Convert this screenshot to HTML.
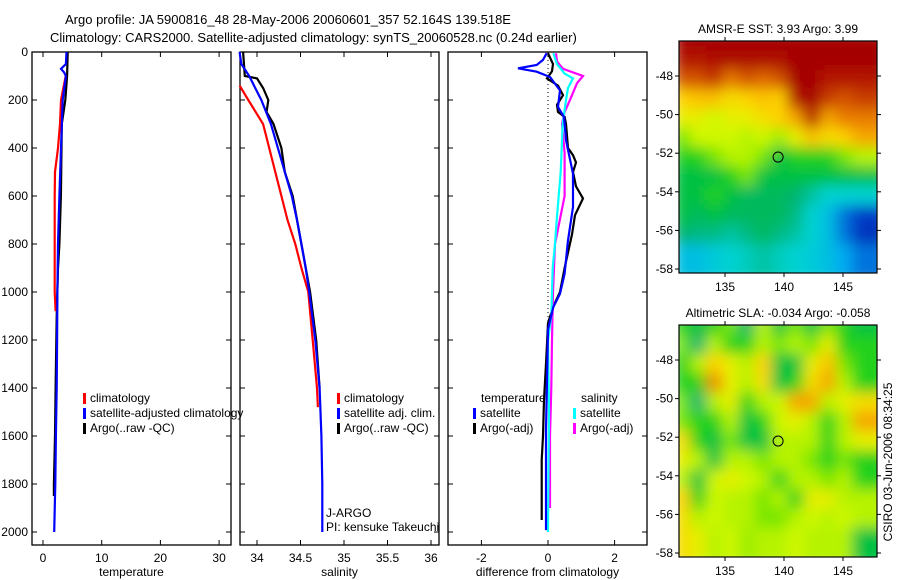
<!DOCTYPE html>
<html><head><meta charset="utf-8"><style>
body{margin:0;background:#fff;}
svg{display:block;font-family:"Liberation Sans",sans-serif;}
</style></head><body>
<svg id="fig" width="900" height="580" viewBox="0 0 900 580">
<defs>
<filter id="blur" x="-10%" y="-10%" width="120%" height="120%"><feGaussianBlur stdDeviation="7"/></filter>
<clipPath id="clipA"><rect x="679" y="41" width="198" height="232"/></clipPath>
<clipPath id="clipB"><rect x="679" y="325" width="198" height="232"/></clipPath>
</defs>
<text x="65" y="24" font-size="13">Argo profile: JA 5900816_48 28-May-2006 20060601_357 52.164S 139.518E</text>
<text x="50" y="42" font-size="13">Climatology: CARS2000. Satellite-adjusted climatology: synTS_20060528.nc (0.24d earlier)</text>
<g id="plots"></g>
</svg>
<script>
// ---------- data ----------
const tempClimDepth=[100,200,300,400,500,600,800,1000,1080];
const tempClimVal=[3.87,3.07,2.9,2.55,2.05,2.0,2.0,2.0,2.15];
const tempSatDepth=[0,50,70,85,100,200,400,600,800,1000,1200,1400,1600,1800,2000];
const tempSatVal=[4.0,3.9,3.06,3.6,3.9,3.35,3.07,2.8,2.55,2.45,2.4,2.33,2.2,2.1,1.9];
const tempArgoDepth=[0,100,200,300,400,600,800,900,1100,1400,1600,1800,1850];
const tempArgoVal=[4.2,4.1,3.8,3.2,3.15,3.05,2.8,2.55,2.33,2.15,2.05,1.85,1.85];

const salClimDepth=[140,200,300,400,500,600,700,800,900,1000,1200,1400,1480];
const salClimVal=[33.80,33.90,34.07,34.14,34.21,34.28,34.35,34.44,34.51,34.59,34.64,34.69,34.70];
const salSatDepth=[0,50,100,200,300,400,500,600,700,800,900,1000,1200,1400,1600,1800,2000];
const salSatVal=[33.80,33.82,33.91,34.05,34.16,34.24,34.32,34.40,34.46,34.51,34.56,34.60,34.67,34.72,34.74,34.75,34.75];
const salArgoDepth=[0,100,110,150,200,250,300,400,500,600,800,1000,1200,1400];
const salArgoVal=[33.84,33.86,34.0,34.07,34.13,34.11,34.19,34.28,34.32,34.41,34.51,34.61,34.68,34.72];

const diffDepth=[5,33,54,68,82,104,160,229,271,368,507,646,785,924,1007,1063,1132,1158,1575,1992];
const diffTempSat=[-0.04,-0.15,-0.34,-0.9,-0.34,0.06,0.36,0.3,0.48,0.54,0.75,0.75,0.6,0.5,0.36,0.16,0.04,0,-0.06,-0.06];
const diffArgoDepth=[5,50,80,110,140,180,220,250,270,300,400,430,460,500,560,610,680,760,900,1000,1060,1130,1300,1450,1600,1700,1950];
const diffTempArgo=[0,0.15,0.12,-0.03,0.3,0.45,0.27,0.3,0.5,0.54,0.6,0.75,0.84,0.75,0.84,1.05,0.81,0.72,0.5,0.36,0.16,0,-0.06,-0.12,-0.15,-0.19,-0.19];
const diffSalDepth=[5,50,90,110,150,200,300,400,500,600,700,800,900,1000,1100,1200,1500,2000];
const diffSalSat=[0.16,0.27,0.5,0.75,0.6,0.54,0.44,0.41,0.38,0.32,0.26,0.21,0.14,0.12,0.1,0.0,0.03,0.0];
const diffSalArgoDepth=[5,40,70,100,130,170,200,250,300,420,600,800,1000,1200,1400,1600,1900];
const diffSalArgo=[0.24,0.27,0.45,1.05,0.87,0.75,0.66,0.5,0.42,0.5,0.5,0.21,0.15,0.12,0.1,0.06,0.06];

const depthTicks=[0,200,400,600,800,1000,1200,1400,1600,1800,2000];
const tempTicks=[0,10,20,30];
const salTicks=[34,34.5,35,35.5,36];
const diffTicks=[-2,0,2];
const latTicks=[-48,-50,-52,-54,-56,-58];
const lonTicks=[135,140,145];

const sstGrid=[
[1,1,1,1,1,1,1,1,1,1,1,1],
[0.95,0.95,0.97,0.97,0.97,0.97,0.97,1,1,1,1,1],
[0.85,0.85,0.9,0.8,0.85,0.82,0.85,1,1,0.95,0.95,0.95],
[0.7,0.72,0.72,0.68,0.7,0.72,0.7,0.95,1,0.88,0.85,0.88],
[0.65,0.65,0.62,0.65,0.65,0.68,0.7,0.75,0.95,0.75,0.8,0.8],
[0.55,0.62,0.62,0.62,0.6,0.62,0.58,0.65,0.72,0.68,0.7,0.75],
[0.5,0.5,0.55,0.6,0.6,0.55,0.45,0.5,0.5,0.5,0.55,0.6],
[0.45,0.45,0.45,0.5,0.55,0.45,0.45,0.45,0.45,0.45,0.45,0.45],
[0.45,0.45,0.5,0.45,0.42,0.42,0.42,0.4,0.35,0.3,0.3,0.3],
[0.45,0.42,0.45,0.42,0.42,0.42,0.42,0.38,0.3,0.25,0.15,0.1],
[0.4,0.38,0.38,0.35,0.38,0.42,0.38,0.35,0.3,0.25,0.15,0.08],
[0.25,0.25,0.28,0.3,0.32,0.35,0.32,0.3,0.28,0.25,0.2,0.15]];
const slaGrid=[
[0.5,0.45,0.5,0.55,0.4,0.6,0.45,0.55,0.45,0.55,0.5,0.45],
[0.55,0.4,0.6,0.5,0.5,0.6,0.55,0.6,0.55,0.65,0.5,0.5],
[0.5,0.6,0.7,0.65,0.6,0.7,0.45,0.45,0.65,0.72,0.55,0.5],
[0.5,0.5,0.78,0.65,0.6,0.68,0.45,0.5,0.68,0.75,0.6,0.5],
[0.55,0.4,0.6,0.65,0.5,0.6,0.62,0.75,0.75,0.6,0.65,0.68],
[0.55,0.5,0.5,0.6,0.45,0.5,0.62,0.65,0.6,0.5,0.6,0.75],
[0.68,0.5,0.45,0.55,0.45,0.45,0.6,0.6,0.6,0.5,0.6,0.65],
[0.65,0.6,0.45,0.6,0.6,0.55,0.6,0.6,0.55,0.5,0.55,0.5],
[0.6,0.45,0.62,0.65,0.62,0.6,0.5,0.6,0.6,0.55,0.6,0.5],
[0.7,0.5,0.62,0.6,0.6,0.55,0.6,0.5,0.65,0.65,0.6,0.6],
[0.68,0.6,0.62,0.6,0.6,0.55,0.55,0.6,0.62,0.6,0.62,0.6],
[0.68,0.65,0.6,0.62,0.58,0.6,0.6,0.62,0.6,0.6,0.6,0.45]];
const argoLon=139.5, argoLat=-52.2;

// ---------- helpers ----------
const NS="http://www.w3.org/2000/svg";
const root=document.getElementById('plots');
function mk(tag,attrs,parent){const e=document.createElementNS(NS,tag);for(const k in attrs)e.setAttribute(k,attrs[k]);(parent||root).appendChild(e);return e;}
function txt(x,y,s,size,anchor,parent){const t=mk('text',{x:x,y:y,'font-size':size||12,'text-anchor':anchor||'start'},parent);t.textContent=s;return t;}
const yD=d=>52+d*0.24;
const PB=545;
function panel(name,x0,x1,xs,ticks,label,fmt){
  const g=mk('g',{});
  
  
  const r=mk('rect',{x:x0,y:52,width:x1-x0,height:PB-52,fill:'none',stroke:'#000','stroke-width':1.3},g);
  
  
  ticks.forEach(v=>{const x=xs(v);
    mk('line',{x1:x,y1:PB,x2:x,y2:PB-5,stroke:'#000'},g);
    mk('line',{x1:x,y1:52,x2:x,y2:57,stroke:'#000'},g);
    const t=txt(x,PB+17,fmt?fmt(v):String(v),12,'middle',g);
    
    
  });
  depthTicks.forEach(d=>{const y=yD(d);
    mk('line',{x1:x0,y1:y,x2:x0+5,y2:y,stroke:'#000'},g);
    mk('line',{x1:x1,y1:y,x2:x1-5,y2:y,stroke:'#000'},g);
  });
  const l=txt((x0+x1)/2,PB+31,label,12,'middle',g);
  
  
  return g;
}
function line(g,xs,depths,vals,color,name){
  const pts=depths.map((d,i)=>xs(vals[i]).toFixed(1)+','+yD(d).toFixed(1)).join(' ');
  const p=mk('polyline',{points:pts,fill:'none',stroke:color,'stroke-width':2.2,'stroke-linejoin':'miter'},g);
  
  
}
function legend(g,x,y,color,label){
  if(color){const m=mk('rect',{x:x,y:y-9,width:3,height:11,fill:color},g);
  
  }
  const t=txt(x+7,y,label,12,'start',g);
  
  
}

depthTicks.forEach(d=>{const t=txt(28,yD(d)+4,String(d),12,'end');
  
  });

const xT=v=>43+v*5.87;
const gT=panel('temperature-panel',32,231,xT,tempTicks,'temperature');
line(gT,xT,tempArgoDepth,tempArgoVal,'#000','temp-argo-line');
line(gT,xT,tempClimDepth,tempClimVal,'#f00','temp-climatology-line');
line(gT,xT,tempSatDepth,tempSatVal,'#00f','temp-satellite-line');
legend(gT,83,402,'#f00','climatology');
legend(gT,83,417,'#00f','satellite-adjusted climatology');
legend(gT,83,432,'#000','Argo(..raw -QC)');

const xS=v=>257+(v-34)*87;
const gS=panel('salinity-panel',240,439,xS,salTicks,'salinity');
line(gS,xS,salArgoDepth,salArgoVal,'#000','sal-argo-line');
line(gS,xS,salClimDepth,salClimVal,'#f00','sal-climatology-line');
line(gS,xS,salSatDepth,salSatVal,'#00f','sal-satellite-line');
legend(gS,337,402,'#f00','climatology');
legend(gS,337,417,'#00f','satellite adj. clim.');
legend(gS,337,432,'#000','Argo(..raw -QC)');
const j1=txt(326,517,'J-ARGO',12,'start',gS);


const j2=txt(326,531,'PI: kensuke Takeuchi',12,'start',gS);



const xDf=v=>548+v*33.3;
const gD=panel('difference-panel',448,647,xDf,diffTicks,'difference from climatology');
const z=mk('line',{x1:xDf(0),y1:52,x2:xDf(0),y2:yD(1150),stroke:'#000','stroke-dasharray':'1,3'},gD);


line(gD,xDf,diffArgoDepth,diffTempArgo,'#000','diff-temp-argo-line');
line(gD,xDf,diffSalArgoDepth,diffSalArgo,'#f0f','diff-sal-argo-line');
line(gD,xDf,diffSalDepth,diffSalSat,'#0ff','diff-sal-satellite-line');
line(gD,xDf,diffDepth,diffTempSat,'#00f','diff-temp-satellite-line');
legend(gD,474,402,null,'temperature');
legend(gD,473,417,'#00f','satellite');
legend(gD,473,432,'#000','Argo(-adj)');
legend(gD,574,402,null,'salinity');
legend(gD,573,417,'#0ff','satellite');
legend(gD,573,432,'#f0f','Argo(-adj)');

const stops=[[0,[0,0,140]],[0.1,[0,60,200]],[0.2,[0,170,240]],[0.3,[0,210,210]],[0.4,[0,180,110]],[0.48,[0,200,40]],[0.55,[120,230,0]],[0.63,[220,250,0]],[0.7,[255,210,0]],[0.78,[240,140,0]],[0.88,[200,60,0]],[1,[165,0,0]]];
function cmap(v){for(let i=1;i<stops.length;i++){if(v<=stops[i][0]){const a=stops[i-1],b=stops[i];const t=(v-a[0])/(b[0]-a[0]);const c=a[1].map((q,k)=>Math.round(q+(b[1][k]-q)*t));return 'rgb('+c.join(',')+')';}}return 'rgb(165,0,0)';}
function map(name,top,grid,title,clipId){
  const g=mk('g',{});
  
  
  const x0=679,x1=877,y1=top+232;
  const lonX=l=>725+(l-135)*11.8;
  const latY=l=>(top+35)+(-48-l)*19.3;
  const cg=mk('g',{'clip-path':'url(#'+clipId+')'},g);
  const bg=mk('g',{filter:'url(#blur)'},cg);
  const lon0=131.5,lat0=-46.2,dlon=(148-131.5)/12,dlat=1;
  grid.forEach((row,r)=>row.forEach((v,c)=>{
    const xa=lonX(lon0+c*dlon),xb=lonX(lon0+(c+1)*dlon);
    const ya=latY(lat0-r*dlat),yb=latY(lat0-(r+1)*dlat);
    const cell=mk('rect',{x:xa-10,y:ya-10,width:xb-xa+20,height:yb-ya+20,fill:cmap(v)},bg);
    
    
  }));
  const f=mk('rect',{x:x0,y:top,width:x1-x0,height:232,fill:'none',stroke:'#000','stroke-width':1.2},g);
  
  
  latTicks.forEach(l=>{const y=latY(l);
    mk('line',{x1:x0-4,y1:y,x2:x0,y2:y,stroke:'#000'},g);
    mk('line',{x1:x1,y1:y,x2:x1+4,y2:y,stroke:'#000'},g);
    const t=txt(x0-6,y+4,String(l),12,'end',g);
    
    });
  lonTicks.forEach(l=>{const x=lonX(l);
    mk('line',{x1:x,y1:y1,x2:x,y2:y1+4,stroke:'#000'},g);
    mk('line',{x1:x,y1:top-4,x2:x,y2:top,stroke:'#000'},g);
    const t=txt(x,y1+18,String(l),12,'middle',g);
    
    });
  const c=mk('circle',{cx:lonX(argoLon),cy:latY(argoLat),r:5,fill:'none',stroke:'#000','stroke-width':1},g);
  
  
  const t=txt(778,top-8,title,12,'middle',g);
  
  
}
map('sst-map',41,sstGrid,'AMSR-E SST: 3.93 Argo: 3.99','clipA');
map('sla-map',325,slaGrid,'Altimetric SLA: -0.034 Argo: -0.058','clipB');
const cs=txt(0,0,'CSIRO 03-Jun-2006 08:34:25',12,'middle');
cs.setAttribute('transform','translate(892,462) rotate(-90)');


</script>
</body></html>
